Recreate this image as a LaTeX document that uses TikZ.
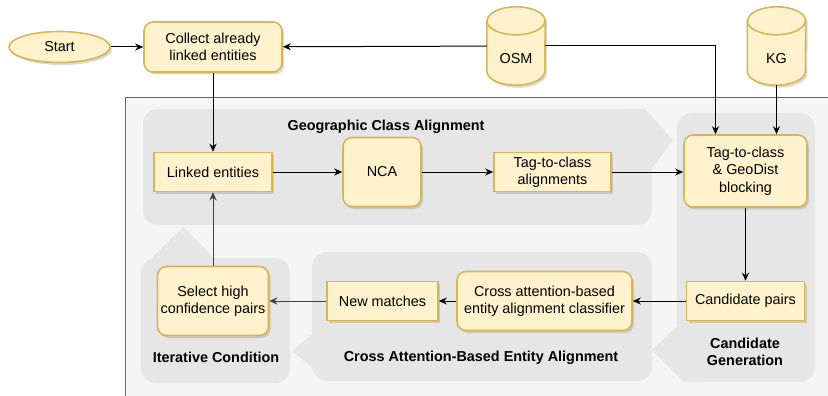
\documentclass[tikz,border=0pt]{standalone}
\usepackage{fontspec}
\setmainfont{Liberation Sans}
\usetikzlibrary{arrows.meta,shapes.geometric,shadows}
\definecolor{boxfill}{HTML}{FFF2CC}
\definecolor{boxline}{HTML}{D6B656}
\definecolor{grpfill}{HTML}{E6E6E6}
\definecolor{outerfill}{HTML}{F5F5F5}
\definecolor{outerline}{HTML}{666666}
\definecolor{backline}{HTML}{314354}
\newcommand{\dfont}{\fontsize{14.4}{17.3}\selectfont}
\tikzset{
	box/.style={draw=boxline,fill=boxfill,line width=1.6pt,inner sep=0pt,align=center,
		drop shadow={shadow xshift=2pt,shadow yshift=-2.5pt,opacity=0.3}},
	rbox/.style={box,rounded corners=9pt},
	grp/.style={fill=grpfill,rounded corners=15pt},
	grplbl/.style={font=\dfont\bfseries,align=center},
	db/.style={minimum width=58pt,minimum height=78pt,inner sep=0pt},
	link/.style={->,line width=1pt},
	back/.style={link,draw=backline}
}

\begin{document}
\begin{tikzpicture}[x=1pt,y=-1pt,font=\dfont,>={Stealth[length=8pt,width=7pt]}]
		\useasboundingbox (0,0) rectangle (828,396);
		\clip (0,0) rectangle (828,396);
		\filldraw[fill=outerfill,draw=outerline,line width=0.8pt] (125,97) rectangle (850,420);
		\fill[grp] (143,109) rectangle (652,225);
		\fill[grpfill] (630,109) -- (645,109) -- (673,140) -- (652,168) -- (630,168) -- cycle;
		\fill[grp] (141,258) rectangle (290,383);
		\fill[grpfill] (148,262) -- (183,227) -- (218,262) -- cycle;
		\fill[grp] (312,252) rectangle (652,381);
		\fill[grpfill] (316,331) -- (292,351) -- (316,371) -- cycle;
		\fill[grp] (677,113) rectangle (815,382);
		\fill[grpfill] (680,323) -- (652,350) -- (684,382) -- (700,382) -- (700,323) -- cycle;
		\node[grplbl] (gcaLbl) at (386,127) {Geographic Class Alignment};
		\node[grplbl] (iterLbl) at (216,357) {Iterative Condition};
		\node[grplbl] (caeaLbl) at (481,358) {Cross Attention-Based Entity Alignment};
		\node[grplbl] (candLbl) at (745,352) {Candidate\\Generation};
		\node[box,ellipse,minimum width=101pt,minimum height=31pt] (start) at (59.5,47) {Start};
		\node[rbox,minimum width=138pt,minimum height=50pt] (collect) at (213,47) {Collect already\\linked entities};
		\node[db] (osm) at (516,46) {};
		\node[db] (kg) at (776.5,46) {};
		\node[box,minimum width=118pt,minimum height=39pt] (linked) at (213,172) {Linked entities};
		\node[rbox,minimum width=78pt,minimum height=69pt] (nca) at (382,172) {NCA};
		\node[box,minimum width=117pt,minimum height=39pt] (tagAlign) at (552.5,172) {Tag-to-class\\alignments};
		\node[rbox,minimum width=123pt,minimum height=72pt] (blocking) at (745.5,171) {Tag-to-class\\\& GeoDist\\blocking};
		\node[box,minimum width=118pt,minimum height=39pt] (cand) at (745.5,301) {Candidate pairs};
		\node[rbox,minimum width=175pt,minimum height=59pt] (classifier) at (544.5,301) {Cross attention-based\\entity alignment classifier};
		\node[box,minimum width=111pt,minimum height=39pt] (newMatch) at (382.5,301) {New matches};
		\node[rbox,minimum width=111pt,minimum height=69pt] (select) at (213,301) {Select high\\confidence pairs};
		\foreach \n in {osm,kg} {
			\filldraw[fill=boxfill,draw=boxline,line width=1.6pt,drop shadow={shadow xshift=2pt,shadow yshift=-2.5pt,opacity=0.3}]
				([yshift=-14pt]\n.north west) -- ([yshift=14pt]\n.south west)
				arc[start angle=180,end angle=360,x radius=29pt,y radius=14pt]
				-- ([yshift=-14pt]\n.north east)
				arc[start angle=0,end angle=180,x radius=29pt,y radius=14pt] -- cycle;
			\draw[boxline,line width=1.6pt] ([yshift=-14pt]\n.north west)
				arc[start angle=180,end angle=360,x radius=29pt,y radius=14pt];
		}
		\node (osmLbl) at ([yshift=-13pt]osm.center) {OSM};
		\node (kgLbl) at ([yshift=-13pt]kg.center) {KG};
		\draw[link] (start) -- (collect);
		\draw[link] (osm) -- (collect);
		\draw[link] (osm.east) -| ([xshift=-30pt]blocking.north);
		\draw[link] (kg) -- (kg |- blocking.north);
		\draw[link] (collect) -- (linked);
		\draw[link] (linked) -- (nca);
		\draw[link] (nca) -- (tagAlign);
		\draw[link] (tagAlign) -- (blocking.west |- tagAlign);
		\draw[link] (blocking) -- (cand);
		\draw[link] (cand) -- (classifier);
		\draw[link] (classifier) -- (newMatch);
		\draw[back] (newMatch) -- (select);
		\draw[back] (select) -- (linked);
	\end{tikzpicture}
\end{document}
